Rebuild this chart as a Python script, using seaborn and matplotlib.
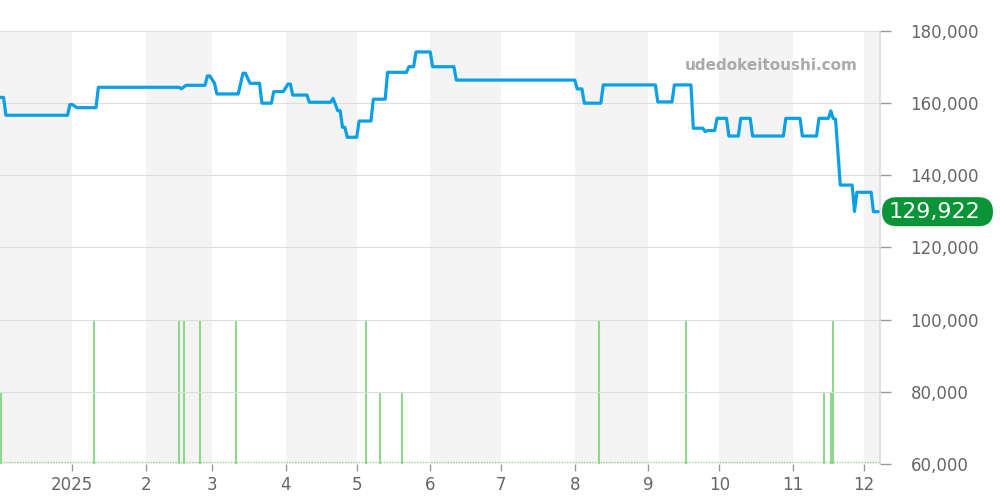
import matplotlib
matplotlib.use("Agg")
import matplotlib.pyplot as plt
from matplotlib.patches import FancyBboxPatch
import numpy as np
import pandas as pd
import seaborn as sns

# ---- data ----
price_dates = [
    "2024-12-01", "2024-12-03", "2024-12-04", "2024-12-30", "2024-12-31", "2025-01-01",
    "2025-01-03", "2025-01-11", "2025-01-12", "2025-02-15", "2025-02-16", "2025-02-18",
    "2025-02-26", "2025-02-27", "2025-02-28", "2025-03-02", "2025-03-03", "2025-03-12",
    "2025-03-14", "2025-03-15", "2025-03-17", "2025-03-21", "2025-03-22", "2025-03-26",
    "2025-03-27", "2025-03-31", "2025-04-02", "2025-04-03", "2025-04-04", "2025-04-10",
    "2025-04-11", "2025-04-20", "2025-04-21", "2025-04-23", "2025-04-24", "2025-04-25",
    "2025-04-26", "2025-04-27", "2025-05-01", "2025-05-02", "2025-05-07", "2025-05-08",
    "2025-05-13", "2025-05-14", "2025-05-22", "2025-05-23", "2025-05-25", "2025-05-26",
    "2025-06-01", "2025-06-02", "2025-06-11", "2025-06-12", "2025-08-01", "2025-08-02",
    "2025-08-04", "2025-08-05", "2025-08-12", "2025-08-13", "2025-09-04", "2025-09-05",
    "2025-09-11", "2025-09-12", "2025-09-19", "2025-09-20", "2025-09-24", "2025-09-25",
    "2025-09-26", "2025-09-29", "2025-09-30", "2025-10-04", "2025-10-05", "2025-10-09",
    "2025-10-10", "2025-10-14", "2025-10-15", "2025-10-28", "2025-10-29", "2025-11-04",
    "2025-11-05", "2025-11-11", "2025-11-12", "2025-11-16", "2025-11-17", "2025-11-18",
    "2025-11-19", "2025-11-21", "2025-11-26", "2025-11-27", "2025-11-28", "2025-12-04",
    "2025-12-05", "2025-12-07",
]
price_values = [
    161600, 161600, 156650, 156650, 159600, 159600,
    158750, 158750, 164400, 164400, 164000, 164950,
    164950, 167550, 167550, 165500, 162550, 162550,
    168300, 168300, 165500, 165500, 160000, 160000,
    163200, 163200, 165300, 165300, 162250, 162250,
    160250, 160250, 161350, 157900, 157900, 153300,
    153300, 150550, 150550, 155050, 155050, 161100,
    161100, 168550, 168550, 170100, 170100, 174200,
    174200, 170100, 170100, 166400, 166400, 163950,
    163950, 160000, 160000, 165050, 165050, 160350,
    160350, 165050, 165050, 153050, 153050, 152100,
    152400, 152400, 155800, 155800, 150900, 150900,
    155800, 155800, 150900, 150900, 155800, 155800,
    150900, 150900, 155800, 155800, 157850, 155800,
    155500, 137300, 137300, 130000, 135300, 135300,
    129922, 129922,
]

volume_dates = [
    "2024-12-02", "2025-01-10", "2025-02-15", "2025-02-17", "2025-02-24", "2025-03-11",
    "2025-05-05", "2025-05-11", "2025-05-20", "2025-08-11", "2025-09-17", "2025-11-14",
    "2025-11-17", "2025-11-18",
]
volume_counts = [1, 2, 2, 2, 2, 2, 2, 1, 1, 2, 2, 1, 1, 2]

tick_months = ["2025-01-01", "2025-02-01", "2025-03-01", "2025-04-01", "2025-05-01",
               "2025-06-01", "2025-07-01", "2025-08-01", "2025-09-01", "2025-10-01",
               "2025-11-01", "2025-12-01"]
tick_labels = ["2025", "2", "3", "4", "5", "6", "7", "8", "9", "10", "11", "12"]
shade_months = ["2024-12-01", "2025-02-01", "2025-04-01", "2025-06-01", "2025-08-01",
                "2025-10-01", "2025-12-01"]
y_ticks = [60000, 80000, 100000, 120000, 140000, 160000, 180000]
last_price = 129922
watermark = "udedokeitoushi.com"

# ---- figure ----
sns.set_theme(style="white")
plt.rcParams["font.family"] = ["DejaVu Sans"]

df = pd.DataFrame({"date": pd.to_datetime(price_dates), "price": price_values})
vdf = pd.DataFrame({"date": pd.to_datetime(volume_dates), "count": volume_counts})

fig = plt.figure(figsize=(10, 5), dpi=100)
ax = fig.add_axes([0.0, 0.072, 0.88, 0.866])
xmin = pd.Timestamp("2024-12-01 12:00")
xmax = pd.Timestamp("2025-12-07 18:00")

# volume on twin axis (drawn behind the price axis)
axv = ax.twinx()
axv.set_ylim(0, 6)
axv.set_xlim(xmin, xmax)
for s in shade_months:
    st = pd.Timestamp(s)
    en = st + pd.offsets.MonthBegin(1)
    axv.axvspan(max(st, xmin), min(en, xmax), color="#f4f4f4", zorder=0, lw=0)
axv.axhline(0.03, color="#9ad89a", lw=1, ls=(0, (1, 1)), zorder=1)
axv.vlines(vdf["date"], 0, vdf["count"], color="#8fd68f", lw=1.5, zorder=2)
axv.set_yticks([])
for sp in axv.spines.values():
    sp.set_visible(False)

ax.set_zorder(axv.get_zorder() + 1)
ax.patch.set_visible(False)
axv.patch.set_visible(True)
axv.patch.set_facecolor("white")

sns.lineplot(data=df, x="date", y="price", ax=ax, color="#0aa0e6", lw=2.3, zorder=5)

ax.set_xlim(xmin, xmax)
ax.set_ylim(60000, 180000)
ax.set_xlabel("")
ax.set_ylabel("")

ax.yaxis.tick_right()
ax.set_yticks(y_ticks)
ax.set_yticklabels([f"{v:,}" for v in y_ticks])
ax.set_xticks(pd.to_datetime(tick_months))
ax.set_xticklabels(tick_labels)
ax.tick_params(axis="y", direction="out", length=8, width=1, color="#999999",
               labelcolor="#666666", labelsize=12, pad=14, right=True, left=False)
ax.tick_params(axis="x", direction="out", length=5, width=1, color="#999999",
               labelcolor="#666666", labelsize=12, pad=4, bottom=True)
for y in y_ticks:
    ax.axhline(y, color="#dddddd", lw=0.8, zorder=1)
for name, sp in ax.spines.items():
    sp.set_visible(name == "right")
ax.spines["right"].set_color("#dddddd")

ax.text(0.975, 0.92, watermark, transform=ax.transAxes, ha="right", va="center",
        fontsize=11, fontweight="bold", color="#aaaaaa", zorder=6)

# last-price badge, vertically centred on the last price
fig.canvas.draw()
_, ypix = ax.transData.transform((0, last_price))
yin = ypix / fig.dpi
badge = FancyBboxPatch((8.82, yin - 0.145), 1.11, 0.29,
                       boxstyle="round,pad=0,rounding_size=0.145",
                       transform=fig.dpi_scale_trans, fc="#0a9438", ec="none",
                       zorder=10, clip_on=False)
fig.patches.append(badge)
fig.text(9.34 / 10, yin / 5, f"{last_price:,}", ha="center", va="center",
         fontsize=16, color="white", zorder=11)

fig.savefig("out.png", dpi=100)
